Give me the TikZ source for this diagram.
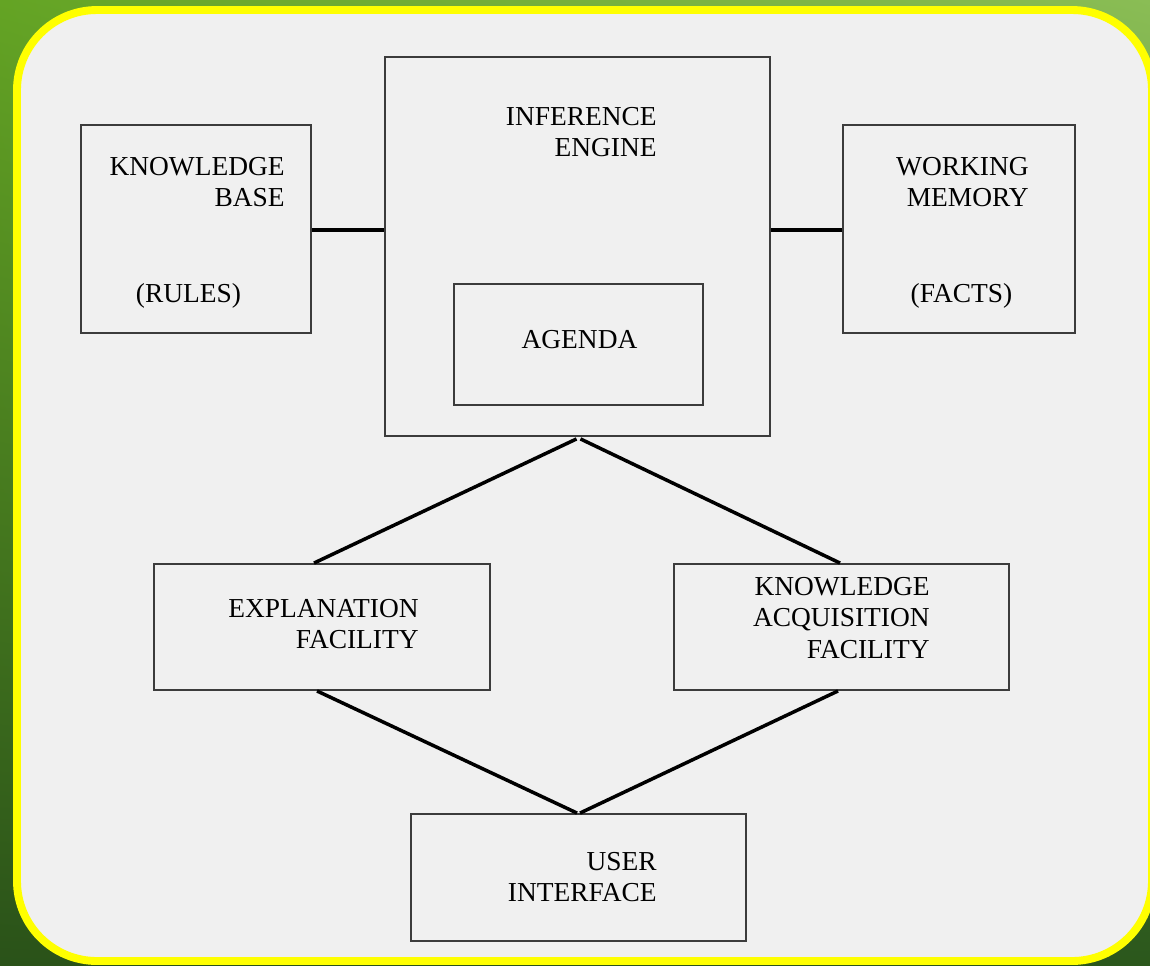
\documentclass[tikz,border=0pt]{standalone}
\usepackage{fontspec}
\setmainfont{Liberation Serif}
\usetikzlibrary{calc,shadings}
\definecolor{boxgray}{HTML}{3C3C3C}
\definecolor{panel}{HTML}{F0F0F0}
\definecolor{frameyellow}{HTML}{FFFF00}
\definecolor{gUL}{HTML}{64A424}
\definecolor{gUR}{HTML}{8ABD55}
\definecolor{gLL}{HTML}{2A5219}
\definecolor{gLR}{HTML}{2B571C}
\begin{document}
\begin{tikzpicture}[x=0.02cm,y=-0.02cm,
  box/.style={draw=boxgray, line width=1.1pt, rectangle, inner sep=0pt},
  lbl/.style={inner sep=0pt, font=\fontsize{15.6}{17.8}\selectfont, align=right, text=black},
  link/.style={line width=2pt, draw=black}]
\useasboundingbox (0,0) rectangle (1150,965);
\clip (0,0) rectangle (1150,965);
% background
\shade[upper left=gUL, upper right=gUR, lower left=gLL, lower right=gLR] (0,0) rectangle (1150,965);
\draw[fill=panel, draw=frameyellow, line width=4.5pt, rounded corners=80*0.02cm] (17,10) rectangle (1152,961);

% boxes
\node[box, minimum width=4.6cm, minimum height=4.16cm] (kb) at (196,229) {};
\node[box, minimum width=7.7cm, minimum height=7.58cm] (ie) at (577.5,246.5) {};
\node[box, minimum width=4.98cm, minimum height=2.42cm] (ag) at (578.5,344.5) {};
\node[box, minimum width=4.64cm, minimum height=4.16cm] (wm) at (959,229) {};
\node[box, minimum width=6.72cm, minimum height=2.52cm] (ef) at (322,627) {};
\node[box, minimum width=6.7cm, minimum height=2.52cm] (kaf) at (841.5,627) {};
\node[box, minimum width=6.7cm, minimum height=2.54cm] (ui) at (578.5,877.5) {};

% labels
\node[lbl, anchor=north east] (kbt) at (285,157) {KNOWLEDGE\\BASE};
\node[lbl, anchor=base] (kbr) at (188.5,302) {(RULES)};
\node[lbl, anchor=north east] (iet) at (657,107) {INFERENCE\\ENGINE};
\node[lbl, anchor=base] (agt) at (579.5,348) {AGENDA};
\node[lbl, anchor=north east] (wmt) at (1029,157) {WORKING\\MEMORY};
\node[lbl, anchor=base] (wmf) at (961.5,302) {(FACTS)};
\node[lbl, anchor=north east] (eft) at (419,599) {EXPLANATION\\FACILITY};
\node[lbl, anchor=north east] (kaft) at (930,577) {KNOWLEDGE\\ACQUISITION\\FACILITY};
\node[lbl, anchor=north east] (uit) at (657,852) {USER\\INTERFACE};

% connectors
\draw[link] ($(kb.east)+(0,1)$) -- ($(kb.east -| ie.west)+(0,1)$);
\draw[link] ($(wm.west -| ie.east)+(0,1)$) -- ($(wm.west)+(0,1)$);
\draw[link] ($(ie.south)+(-1,2)$) -- ($(ef.north)+(-8,0)$);
\draw[link] ($(ie.south)+(3,2)$) -- ($(kaf.north)+(-1.5,0)$);
\draw[link] ($(ef.south)+(-5,0)$) -- ($(ui.north)+(-1.5,0)$);
\draw[link] ($(kaf.south)+(-3.5,0)$) -- ($(ui.north)+(1.5,0)$);
\end{tikzpicture}
\end{document}
